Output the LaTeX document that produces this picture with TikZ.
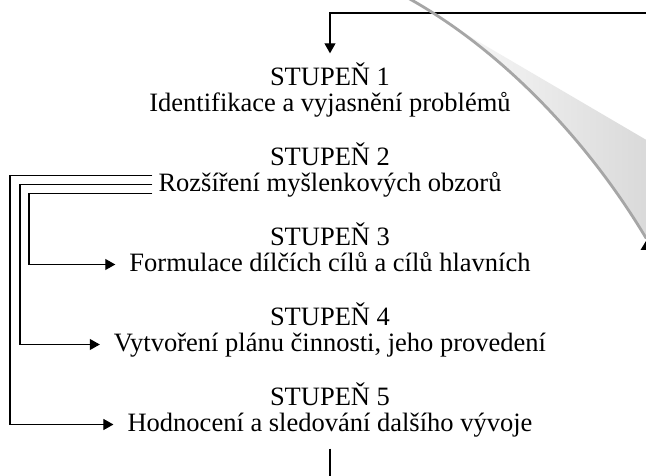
\documentclass[tikz,border=0pt]{standalone}
\usepackage{fontspec}
\setmainfont{Liberation Serif}
\usetikzlibrary{arrows.meta,calc}
\begin{document}
\begin{tikzpicture}[x=1pt,y=-1pt,
  txt/.style={font=\fontsize{26.5}{30}\selectfont, inner sep=3pt, anchor=base, text height=20pt, text depth=6pt},
  conn/.style={line width=1.1pt, draw=black},
  arr/.style={conn, -{Triangle[length=10pt,width=11pt]}},
  curl/.style={line width=2.8pt, draw=black!35, line cap=round}]
\useasboundingbox (0,0) rectangle (646,476);
\clip (0,0) rectangle (646,476);
\fill[white] (0,0) rectangle (646,476);

% curled page (grey decoration)
\begin{scope}
  \clip (300,-63) -- (800,230) -- (800,400) -- (300,400) -- cycle;
  \shade[left color=white, right color=black!18]
    (408,-2) .. controls (498,48) and (585,136) .. (646,238) -- (700,238) -- (700,-2) -- cycle;
\end{scope}

% nodes
\node[txt] (s1) at (330,85.5) {STUPEŇ 1};
\node[txt] (d1) at (330,111.5) {Identifikace a vyjasnění problémů};
\node[txt] (s2) at (330,165.5) {STUPEŇ 2};
\node[txt] (d2) at (330,191.5) {Rozšíření myšlenkových obzorů};
\node[txt] (s3) at (330,245.5) {STUPEŇ 3};
\node[txt] (d3) at (330,271.5) {Formulace dílčích cílů a cílů hlavních};
\node[txt] (s4) at (330,325.5) {STUPEŇ 4};
\node[txt] (d4) at (330,351.5) {Vytvoření plánu činnosti, jeho provedení};
\node[txt] (s5) at (330,405.5) {STUPEŇ 5};
\node[txt] (d5) at (330,431.5) {Hodnocení a sledování dalšího vývoje};

% helper coordinates
\coordinate (topR) at (660,13);
\coordinate (L1) at (10,0);
\coordinate (L2) at (20,0);
\coordinate (L3) at (29,0);
\coordinate (botC) at (330,490);

% connectors
\draw[arr, shorten >=9pt] (topR) -| (s1.north);
\draw[arr, shorten <=3pt, shorten >=11pt] ([yshift=9pt]d2.west) -| (d5.west -| L1) -- (d5.west);
\draw[arr, shorten <=3pt, shorten >=11pt] (d2.west) -| (d4.west -| L2) -- (d4.west);
\draw[arr, shorten <=3pt, shorten >=11pt] ([yshift=-9pt]d2.west) -| (d3.west -| L3) -- (d3.west);
\draw[conn, shorten <=8pt] (d5.south) -- (d5.south |- botC);

% curled page outline and arrow tip
\draw[curl] (408,-2) .. controls (498,48) and (585,136) .. (646,238);
\fill[black] (640.5,250) -- (646,250) -- (646,241) -- cycle;
\end{tikzpicture}
\end{document}
